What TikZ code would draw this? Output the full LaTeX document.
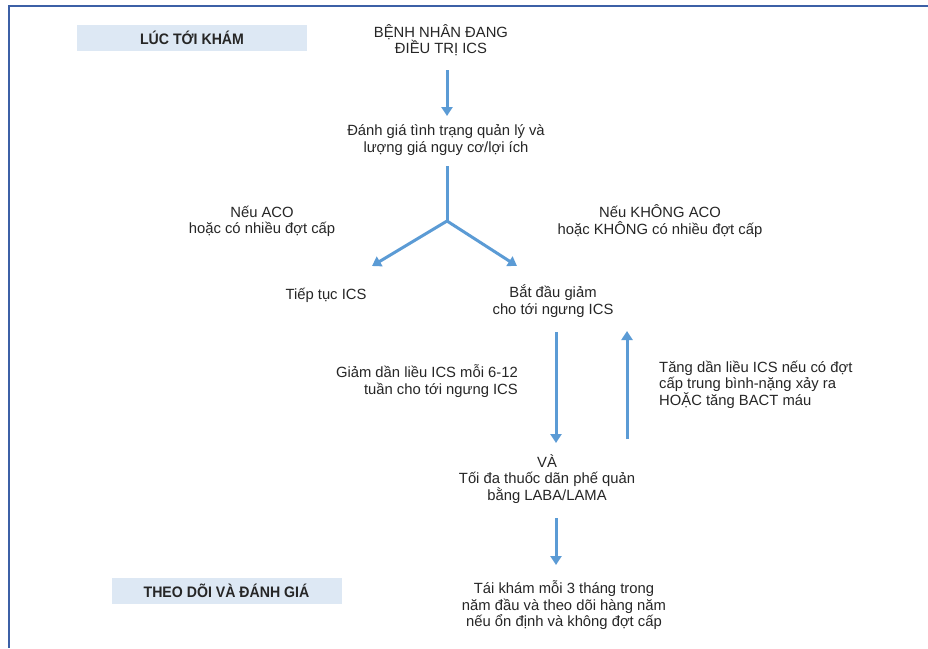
\documentclass[tikz,border=0pt]{standalone}
\usepackage{fontspec}
\setmainfont{Liberation Sans}
\newfontfamily\headfont[FakeStretch=0.93]{Liberation Sans}
\usetikzlibrary{arrows.meta}
\definecolor{framec}{HTML}{3C60A6}
\definecolor{arrowc}{HTML}{5B9BD5}
\definecolor{headfill}{HTML}{DDE8F4}
\begin{document}
\begin{tikzpicture}[x=1pt,y=-1pt,
  txt/.style={inner sep=0pt,align=center,font=\fontsize{14.8}{16.6}\selectfont,text=black!85},
  head/.style={fill=headfill,inner sep=0pt,minimum width=230pt,minimum height=26pt,font=\headfont\bfseries\fontsize{15.2}{16}\selectfont,text=black!85},
  flow/.style={draw=arrowc,line width=3pt,-{Triangle[length=9pt,width=11pt]}},
  plain/.style={draw=arrowc,line width=3pt}]
\useasboundingbox (0,0) rectangle (928,648);
\fill[white] (0,0) rectangle (928,648);
% frame
\draw[framec,line width=2.6pt] (9,648) -- (9,6) -- (928,6);
% headers
\node[head] (h1) at (192,37.5) {LÚC TỚI KHÁM};
\node[head] (h2) at (226.5,591) {THEO DÕI VÀ ĐÁNH GIÁ};
% texts
\node[txt] (start) at (441,40) {BỆNH NHÂN ĐANG\\ĐIỀU TRỊ ICS};
\node[txt] (assess) at (446,140) {Đánh giá tình trạng quản lý và\\lượng giá nguy cơ/lợi ích};
\node[txt] (ifaco) at (262,221.5) {Nếu ACO\\hoặc có nhiều đợt cấp};
\node[txt] (ifnot) at (660,221) {Nếu KHÔNG ACO\\hoặc KHÔNG có nhiều đợt cấp};
\node[txt] (cont) at (326,295) {Tiếp tục ICS};
\node[txt] (begin) at (553,301) {Bắt đầu giảm\\cho tới ngưng ICS};
\node[txt,align=right,anchor=east] (dec) at (518,381) {Giảm dần liều ICS mỗi 6-12\\tuần cho tới ngưng ICS};
\node[txt,align=left,anchor=west] (inc) at (659,384.5) {Tăng dần liều ICS nếu có đợt\\cấp trung bình-nặng xảy ra\\HOẶC tăng BACT máu};
\node[txt] (and) at (547,479) {VÀ\\Tối đa thuốc dãn phế quản\\bằng LABA/LAMA};
\node[txt] (follow) at (564,605.5) {Tái khám mỗi 3 tháng trong\\năm đầu và theo dõi hàng năm\\nếu ổn định và không đợt cấp};
% connector points
\coordinate (s1) at (447,70);
\coordinate (e1) at (447,116);
\coordinate (s2) at (447,166);
\coordinate (j) at (447,221);
\coordinate (el) at (372,266);
\coordinate (er) at (517,266);
\coordinate (s3) at (556,332);
\coordinate (e3) at (556,443);
\coordinate (s4) at (627,439);
\coordinate (e4) at (627,331);
\coordinate (s5) at (556,518);
\coordinate (e5) at (556,565);
% connectors
\draw[flow] (s1) -- (e1);
\draw[plain] (s2) -- (j);
\draw[flow] (j) -- (el);
\draw[flow] (j) -- (er);
\draw[flow] (s3) -- (e3);
\draw[flow] (s4) -- (e4);
\draw[flow] (s5) -- (e5);
\end{tikzpicture}
\end{document}
